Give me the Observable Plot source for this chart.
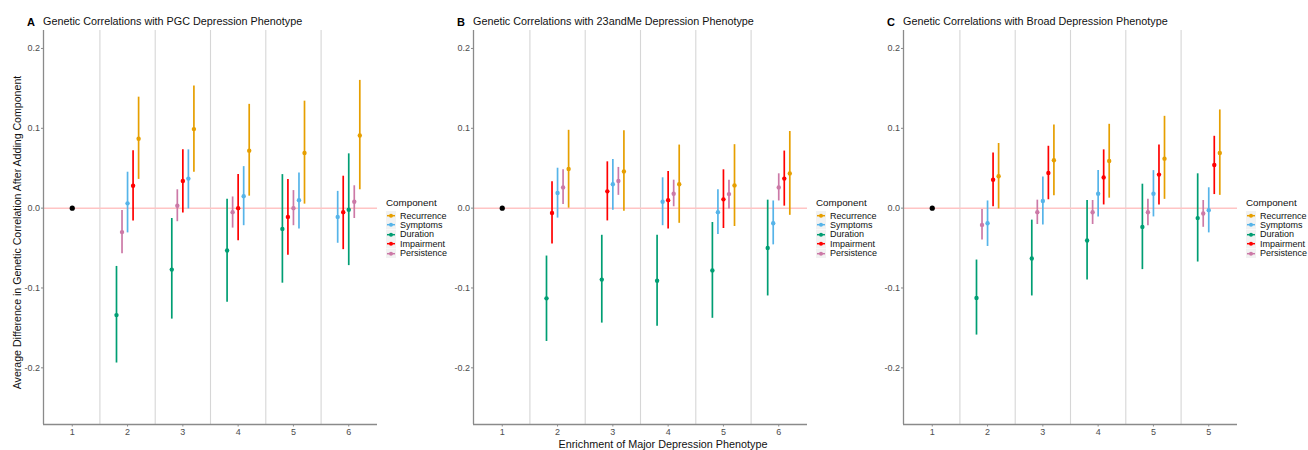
<!DOCTYPE html>
<html><head><meta charset="utf-8">
<script src="https://cdn.jsdelivr.net/npm/d3@7"></script>
<script src="https://cdn.jsdelivr.net/npm/@observablehq/plot@0.6"></script>
<style>
body{margin:0;background:#fff;font-family:"Liberation Sans",Arial,sans-serif;}
#root{position:relative;width:1308px;height:450px;overflow:hidden;background:#fff;}
.panel{position:absolute;top:0;}
.tag{position:absolute;top:16px;font-size:11px;font-weight:bold;color:#000;}
.title{position:absolute;top:15px;font-size:10.8px;color:#111;white-space:nowrap;}
.legend{position:absolute;top:197px;font-size:9px;color:#111;}
.legend .lt{font-size:9.8px;margin-bottom:3px;}
.legend .it{display:flex;align-items:center;height:9.4px;}
.legend svg{margin-right:4px;}
.xtitle{position:absolute;top:438px;font-size:10.8px;color:#111;white-space:nowrap;transform:translateX(-50%);}
</style></head>
<body><div id="root"></div>
<script>
// ---- data ----
const groupsAll = [1, 2, 3, 4, 5, 6];
const groups = [2, 3, 4, 5, 6];
const components = ["Recurrence", "Symptoms", "Duration", "Impairment", "Persistence"];
const componentColors = ["#E69F00", "#56B4E9", "#009E73", "#FF0000", "#CC79A7"];
const yTicks = [-0.2, -0.1, 0, 0.1, 0.2];
const baselineValue = 0;

const panelTags = ["A", "B", "C"];
const panelTitles = [
  "Genetic Correlations with PGC Depression Phenotype",
  "Genetic Correlations with 23andMe Depression Phenotype",
  "Genetic Correlations with Broad Depression Phenotype"
];
const tickLabelsA = ["1", "2", "3", "4", "5", "6"];
const tickLabelsB = ["1", "2", "3", "4", "5", "6"];
const tickLabelsC = ["1", "2", "3", "4", "5", "5"];
const yTitle = "Average Difference in Genetic Correlation After Adding Component";
const xTitle = "Enrichment of Major Depression Phenotype";
const legendTitle = "Component";

// PGC (panel A): per component, values for enrichment 2..6
const pgcEst = {
  Recurrence:  [0.087, 0.099, 0.072, 0.069, 0.091],
  Symptoms:    [0.006, 0.037, 0.015, 0.010, -0.011],
  Duration:    [-0.134, -0.077, -0.053, -0.026, -0.002],
  Impairment:  [0.028, 0.034, 0.000, -0.011, -0.005],
  Persistence: [-0.030, 0.003, -0.005, 0.000, 0.008]
};
const pgcLo = {
  Recurrence:  [0.036, 0.045, 0.015, 0.005, 0.023],
  Symptoms:    [-0.031, -0.001, -0.022, -0.026, -0.044],
  Duration:    [-0.194, -0.139, -0.118, -0.094, -0.072],
  Impairment:  [-0.016, -0.006, -0.041, -0.059, -0.052],
  Persistence: [-0.057, -0.017, -0.025, -0.022, -0.013]
};
const pgcHi = {
  Recurrence:  [0.139, 0.153, 0.130, 0.134, 0.160],
  Symptoms:    [0.045, 0.073, 0.052, 0.044, 0.021],
  Duration:    [-0.073, -0.013, 0.011, 0.042, 0.068],
  Impairment:  [0.072, 0.073, 0.042, 0.036, 0.040],
  Persistence: [-0.003, 0.023, 0.014, 0.022, 0.028]
};

// 23andMe (panel B)
const meEst = {
  Recurrence:  [0.049, 0.046, 0.030, 0.0285, 0.0435],
  Symptoms:    [0.019, 0.030, 0.008, -0.005, -0.019],
  Duration:    [-0.113, -0.0895, -0.091, -0.078, -0.050],
  Impairment:  [-0.006, 0.021, 0.010, 0.011, 0.037],
  Persistence: [0.026, 0.034, 0.018, 0.0176, 0.026]
};
const meLo = {
  Recurrence:  [0.000, -0.004, -0.019, -0.023, -0.009],
  Symptoms:    [-0.0125, -0.0025, -0.022, -0.033, -0.046],
  Duration:    [-0.167, -0.144, -0.148, -0.138, -0.110],
  Impairment:  [-0.045, -0.016, -0.026, -0.0255, 0.0025],
  Persistence: [0.0046, 0.016, 0.0017, -0.001, 0.009]
};
const meHi = {
  Recurrence:  [0.0975, 0.097, 0.079, 0.0795, 0.096],
  Symptoms:    [0.050, 0.061, 0.038, 0.023, 0.009],
  Duration:    [-0.060, -0.034, -0.034, -0.018, 0.010],
  Impairment:  [0.033, 0.058, 0.046, 0.048, 0.0715],
  Persistence: [0.048, 0.051, 0.035, 0.035, 0.043]
};

// Broad (panel C)
const broadEst = {
  Recurrence:  [0.040, 0.060, 0.059, 0.062, 0.069],
  Symptoms:    [-0.019, 0.009, 0.018, 0.018, -0.0025],
  Duration:    [-0.1125, -0.063, -0.0405, -0.0235, -0.0125],
  Impairment:  [0.0355, 0.044, 0.0385, 0.042, 0.054],
  Persistence: [-0.021, -0.005, -0.0052, -0.0052, -0.0067]
};
const broadLo = {
  Recurrence:  [-0.001, 0.0155, 0.0125, 0.011, 0.016],
  Symptoms:    [-0.048, -0.021, -0.011, -0.011, -0.031],
  Duration:    [-0.159, -0.110, -0.090, -0.077, -0.0675],
  Impairment:  [0.0017, 0.0105, 0.004, 0.004, 0.017],
  Persistence: [-0.040, -0.0205, -0.0205, -0.022, -0.024]
};
const broadHi = {
  Recurrence:  [0.081, 0.104, 0.105, 0.115, 0.123],
  Symptoms:    [0.009, 0.039, 0.047, 0.047, 0.0255],
  Duration:    [-0.065, -0.015, 0.0096, 0.030, 0.043],
  Impairment:  [0.069, 0.0775, 0.073, 0.079, 0.090],
  Persistence: [-0.0017, 0.010, 0.0096, 0.011, 0.0096]
};

// ---- build ----
const dodgeStep = 0.1;
function buildRows(est, lo, hi) {
  const rows = [];
  groups.forEach((g, gi) => {
    const grp = components.map(c => ({group: g, component: c, est: est[c][gi], lo: lo[c][gi], hi: hi[c][gi]}));
    const sorted = grp.slice().sort((a, b) => a.est - b.est);
    sorted.forEach((r, k) => { r.xpos = g + (k - (sorted.length - 1) / 2) * dodgeStep; rows.push(r); });
  });
  return rows;
}

const xDomain = [0.48, 6.52];
const yDomain = [-0.271, 0.2225];
const separators = groupsAll.slice(1).map(g => g - 0.5);

function makePanel(rows, tickLabels, withYTitle) {
  const marks = [
    Plot.ruleX(separators, {x: d => d, stroke: "#d6d6d6", strokeWidth: 1.1}),
    Plot.ruleY([0], {y: d => d, stroke: "#ffc4c4", strokeWidth: 1.5}),
    Plot.ruleX(rows, {x: "xpos", y1: "lo", y2: "hi", stroke: "component", strokeWidth: 1.7}),
    Plot.dot(rows, {x: "xpos", y: "est", fill: "component", r: 2.2}),
    Plot.dot([{g: groupsAll[0], v: baselineValue}], {x: "g", y: "v", fill: "#000", r: 2.6}),
    Plot.ruleX([xDomain[0]], {x: d => d, stroke: "#8a8a8a", strokeWidth: 1.3}),
    Plot.ruleY([yDomain[0]], {y: d => d, stroke: "#8a8a8a", strokeWidth: 1.3}),
    Plot.axisX({ticks: groupsAll, tickFormat: d => tickLabels[groupsAll.indexOf(d)], tickSize: 2.5, tickPadding: 2, stroke: "#8a8a8a", fill: "#4d4d4d", label: null, fontSize: 9}),
    Plot.axisY({ticks: yTicks, tickFormat: d => d.toFixed(1), tickSize: 2, tickPadding: 1.5, stroke: "#8a8a8a", fill: "#4d4d4d", label: null, fontSize: 9})
  ];
  if (withYTitle) {
    marks.push(Plot.text([yTitle], {text: d => d, frameAnchor: "left", rotate: -90, dx: -26, dy: 5, textAnchor: "middle", fontSize: 10.6, fill: "#111"}));
  }
  return Plot.plot({
    width: 380, height: 450,
    marginLeft: 43, marginRight: 3, marginTop: 30, marginBottom: 26,
    x: {domain: xDomain, label: null},
    y: {domain: yDomain, label: null},
    color: {domain: components, range: componentColors},
    style: {fontFamily: "Liberation Sans, Arial, sans-serif", fontSize: "9px", background: "transparent", overflow: "visible"},
    marks
  });
}

const root = document.getElementById("root");
const panels = [
  {rows: buildRows(pgcEst, pgcLo, pgcHi), ticks: tickLabelsA, yTitle: true},
  {rows: buildRows(meEst, meLo, meHi), ticks: tickLabelsB, yTitle: false},
  {rows: buildRows(broadEst, broadLo, broadHi), ticks: tickLabelsC, yTitle: false}
];
const offsets = [0, 430, 860];
panels.forEach((p, i) => {
  const div = document.createElement("div");
  div.className = "panel";
  div.style.left = offsets[i] + "px";
  div.appendChild(makePanel(p.rows, p.ticks, p.yTitle));
  root.appendChild(div);

  const tag = document.createElement("div");
  tag.className = "tag"; tag.textContent = panelTags[i];
  tag.style.left = (offsets[i] + 27) + "px";
  root.appendChild(tag);
  const title = document.createElement("div");
  title.className = "title"; title.textContent = panelTitles[i];
  title.style.left = (offsets[i] + 43) + "px";
  root.appendChild(title);

  const lg = document.createElement("div");
  lg.className = "legend";
  lg.style.left = (offsets[i] + 386) + "px";
  const lt = document.createElement("div"); lt.className = "lt"; lt.textContent = legendTitle; lg.appendChild(lt);
  components.forEach((c, k) => {
    const it = document.createElement("div"); it.className = "it";
    it.innerHTML = `<svg width="10" height="9.4"><rect x="0" y="0" width="10" height="9.4" fill="#f2f2f2"/><line x1="1" x2="9" y1="4.7" y2="4.7" stroke="${componentColors[k]}" stroke-width="1.5"/><circle cx="5" cy="4.7" r="2" fill="${componentColors[k]}"/></svg><span>${c}</span>`;
    lg.appendChild(it);
  });
  root.appendChild(lg);
});
const xt = document.createElement("div");
xt.className = "xtitle"; xt.textContent = xTitle; xt.style.left = "663px";
root.appendChild(xt);
</script>
</body></html>
